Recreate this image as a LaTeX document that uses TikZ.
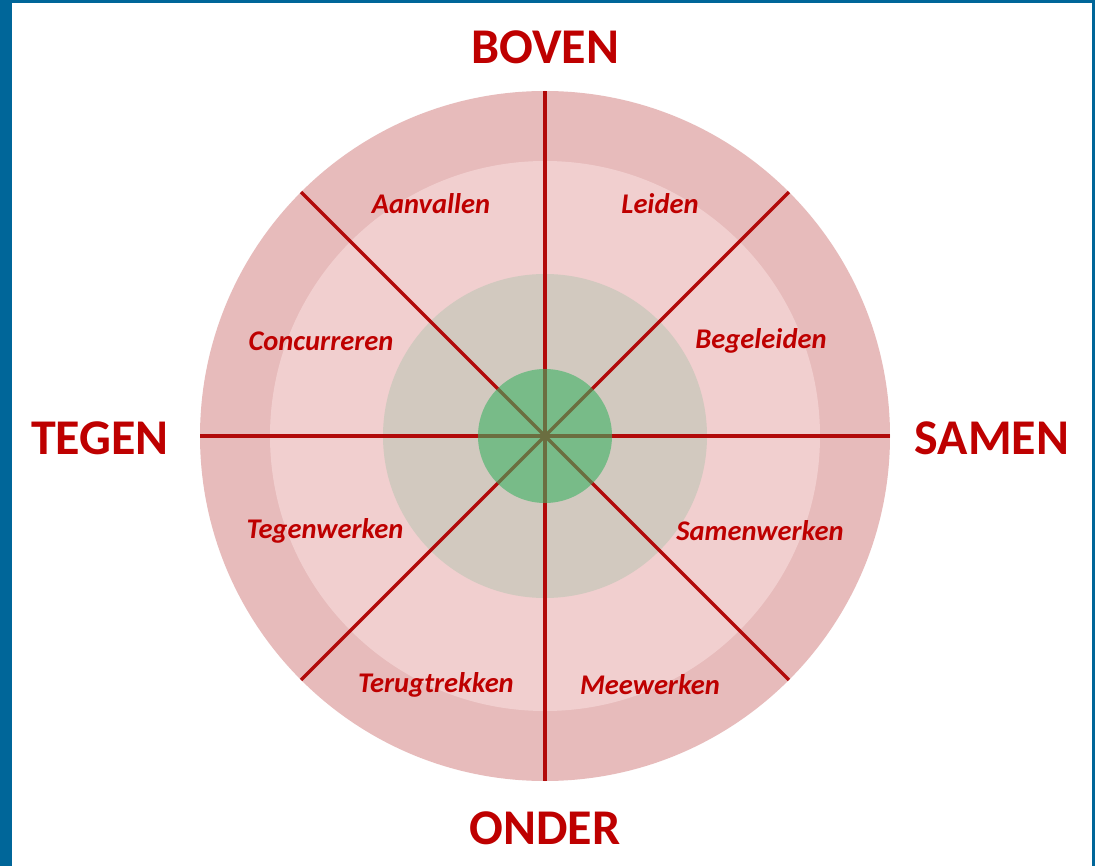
\documentclass[tikz,border=0pt]{standalone}
\usepackage{fontspec}
\setmainfont{Carlito}
\usetikzlibrary{calc}
\usepackage{xcolor}
\definecolor{kader}{RGB}{0,102,153}
\definecolor{rood}{RGB}{190,0,0}
\definecolor{lijn}{RGB}{178,10,10}
\definecolor{ringbuiten}{RGB}{231,187,187}
\definecolor{ringbinnen}{RGB}{241,207,207}
\definecolor{kern}{RGB}{210,201,191}
\definecolor{midden}{RGB}{60,178,100}
\tikzset{
 richting/.style={text=rood, font=\fontsize{50}{52}\selectfont\bfseries},
 gedrag/.style={text=rood, font=\fontsize{28.5}{30}\selectfont\bfseries\itshape}
}

\begin{document}
\begin{tikzpicture}[x=1pt,y=-1pt]
\fill[kader] (0,0) rectangle (1095,866);
\fill[white] (12,3) rectangle (1092,866);
\useasboundingbox (0,0) rectangle (1095,866);
\coordinate (c) at (545,436);
\fill[ringbuiten] (c) circle (345);
\fill[ringbinnen] (c) circle (275);
\fill[kern] (c) circle (162);
\foreach \a in {0,45,...,315} {
 \draw[lijn, line width=3.2pt] (c) -- ++(\a:345);
}
\fill[midden, opacity=.6] (c) circle (67);
% windrichtingen
\node[richting] (boven) at (545,47) {BOVEN};
\node[richting] (onder) at (545,828) {ONDER};
\node[richting] (tegen) at (100,438) {TEGEN};
\node[richting] (samen) at (992,438) {SAMEN};
% gedrag per sector
\node[gedrag] (aanvallen) at (431,204) {Aanvallen};
\node[gedrag] (leiden) at (660,204) {Leiden};
\node[gedrag] (concurreren) at (321,341) {Concurreren};
\node[gedrag] (begeleiden) at (761,341) {Begeleiden};
\node[gedrag] (tegenwerken) at (325,531) {Tegenwerken};
\node[gedrag] (samenwerken) at (760,531) {Samenwerken};
\node[gedrag] (terugtrekken) at (436,685) {Terugtrekken};
\node[gedrag] (meewerken) at (650,685) {Meewerken};
\end{tikzpicture}
\end{document}
